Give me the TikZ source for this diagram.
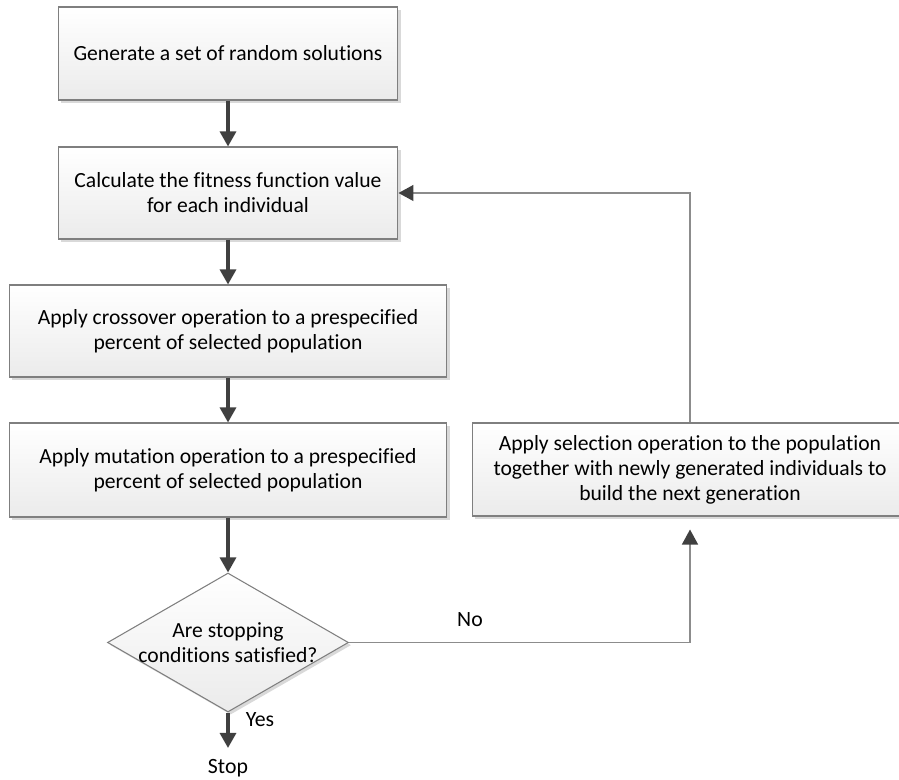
\documentclass[tikz,border=0pt]{standalone}
\usepackage{fontspec}
\setmainfont{Carlito}[Ligatures=NoCommon]
\usepackage{xcolor}
\usepackage{tikz}
\usetikzlibrary{shapes.geometric,arrows.meta,positioning,shadows}
\definecolor{boxedge}{HTML}{7F7F7F}
\definecolor{boxlow}{HTML}{EBEBEB}
\definecolor{flowcol}{HTML}{404040}
\definecolor{loopcol}{HTML}{8C8C8C}

\begin{document}
\begin{tikzpicture}[x=0.02cm,y=-0.02cm,
  stepbox/.style={rectangle,draw=boxedge,line width=0.6pt,top color=white,bottom color=boxlow,
    drop shadow={shadow xshift=1.5pt,shadow yshift=-1.5pt,fill=black,opacity=0.15},
    align=center,inner sep=0pt,font=\fontsize{12.3}{14.2}\selectfont},
  decide/.style={diamond,draw=boxedge,line width=0.6pt,top color=white,bottom color=boxlow,
    drop shadow={shadow xshift=1.5pt,shadow yshift=-1.5pt,fill=black,opacity=0.15},
    inner sep=0pt,minimum width=4.82cm,minimum height=2.78cm,aspect=1.73},
  flow/.style={draw=flowcol,line width=1.8pt,-{Triangle[length=0.3cm,width=0.32cm]},color=flowcol},
  loopback/.style={draw=loopcol,line width=0.8pt,-{Triangle[length=0.3cm,width=0.32cm,fill=flowcol,color=flowcol]}},
  lbl/.style={inner sep=0pt,font=\fontsize{12.4}{14.2}\selectfont}]
\useasboundingbox (0,0) rectangle (899,780);
\node[stepbox,minimum width=6.8cm,minimum height=1.86cm] (gen) at (228,53.5) {Generate a set of random solutions};
\node[stepbox,minimum width=6.8cm,minimum height=1.84cm] (fit) at (228,193) {Calculate the fitness function value\\for each individual};
\node[stepbox,minimum width=8.76cm,minimum height=1.84cm] (cross) at (228,331) {Apply crossover operation to a prespecified\\percent of selected population};
\node[stepbox,minimum width=8.76cm,minimum height=1.88cm] (mut) at (228,470) {Apply mutation operation to a prespecified\\percent of selected population};
\node[decide,label={[align=center,inner sep=0pt,font=\fontsize{12.3}{14.6}\selectfont]center:Are stopping\\conditions satisfied?}] (stopq) at (228,642.5) {};
\node[stepbox,minimum width=8.72cm,minimum height=1.86cm] (sel) at (690,469.5) {Apply selection operation to the population\\together with newly generated individuals to\\build the next generation};
\node[lbl,anchor=base] (stop) at (228,773) {Stop};
\node[lbl] (yes) at (260,720) {Yes};
\node[lbl] (no) at (470,620) {No};
\draw[flow] (gen) -- (fit);
\draw[flow] (fit) -- (cross);
\draw[flow] (cross) -- (mut);
\draw[flow] (mut) -- (stopq);
\draw[flow,shorten >=6pt] (stopq) -- (stop);
\draw[loopback,shorten >=0.26cm] (stopq.east) -| (sel.south);
\draw[loopback] (sel.north) |- (fit.east);
\end{tikzpicture}
\end{document}
